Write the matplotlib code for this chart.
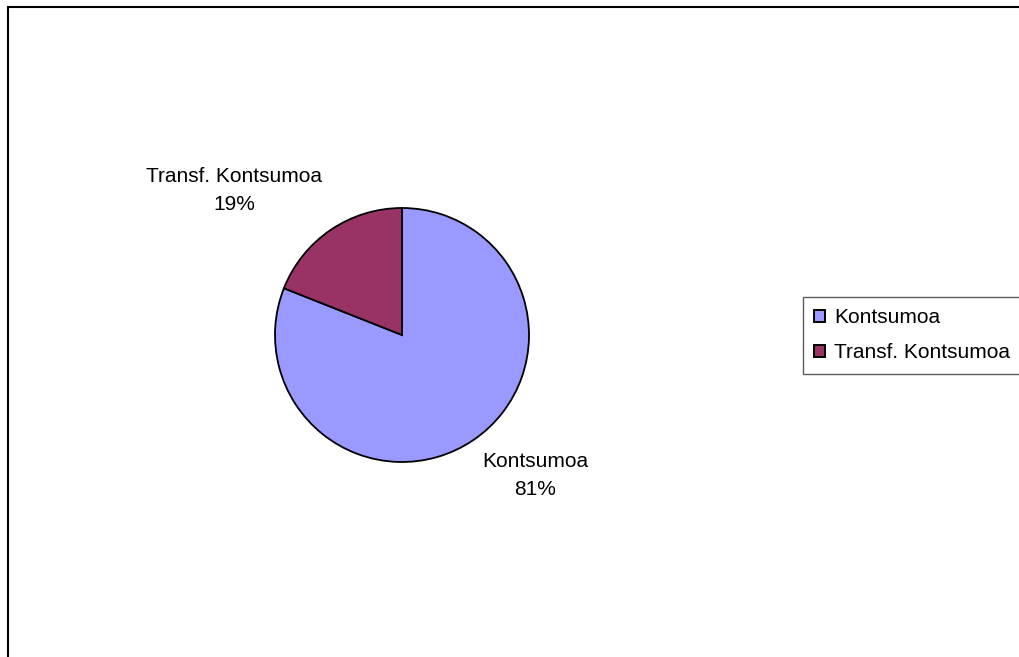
import matplotlib
matplotlib.use("Agg")
import matplotlib.pyplot as plt
from matplotlib.patches import Rectangle, Patch

categories = ["Kontsumoa", "Transf. Kontsumoa"]
values = [81, 19]
colors = ["#9999FF", "#993366"]

plt.rcParams['font.family'] = ['Liberation Sans', 'DejaVu Sans']

W, H = 1020, 657
fig = plt.figure(figsize=(W / 100, H / 100), dpi=100)

# outer chart frame
fig.patches.append(Rectangle((8 / W, -0.1), 1.2, 1.1 - 7 / H, transform=fig.transFigure,
                             fill=False, edgecolor="#000000", linewidth=1.5, zorder=0))

cx, cy, r = 402, 335, 127
ax = fig.add_axes([(cx - r) / W, 1 - (cy + r) / H, 2 * r / W, 2 * r / H])
wedges, _ = ax.pie(values, colors=colors, startangle=90, counterclock=False,
                   wedgeprops=dict(edgecolor="black", linewidth=1.3), radius=1)
ax.set_xlim(-1, 1)
ax.set_ylim(-1, 1)

total = sum(values)
label_pos = [(1.047, -1.11), (-1.323, 1.134)]
for cat, v, (lx, ly) in zip(categories, values, label_pos):
    ax.text(lx, ly, f"{cat}\n{v / total * 100:.0f}%", ha="center", va="center",
            fontsize=15, linespacing=1.6, clip_on=False)

handles = [Patch(facecolor=c, edgecolor="black", linewidth=1.4) for c in colors]
leg = fig.legend(handles, categories, loc="upper left",
                 bbox_to_anchor=(803 / W, 1 - 297 / H), borderaxespad=0,
                 fancybox=False, frameon=True, fontsize=15,
                 handlelength=0.5, handleheight=0.5, handletextpad=0.45,
                 labelspacing=0.75, borderpad=0.55)
leg.get_frame().set_edgecolor("#333333")
leg.get_frame().set_linewidth(1.0)

fig.savefig("out.png", dpi=100)
